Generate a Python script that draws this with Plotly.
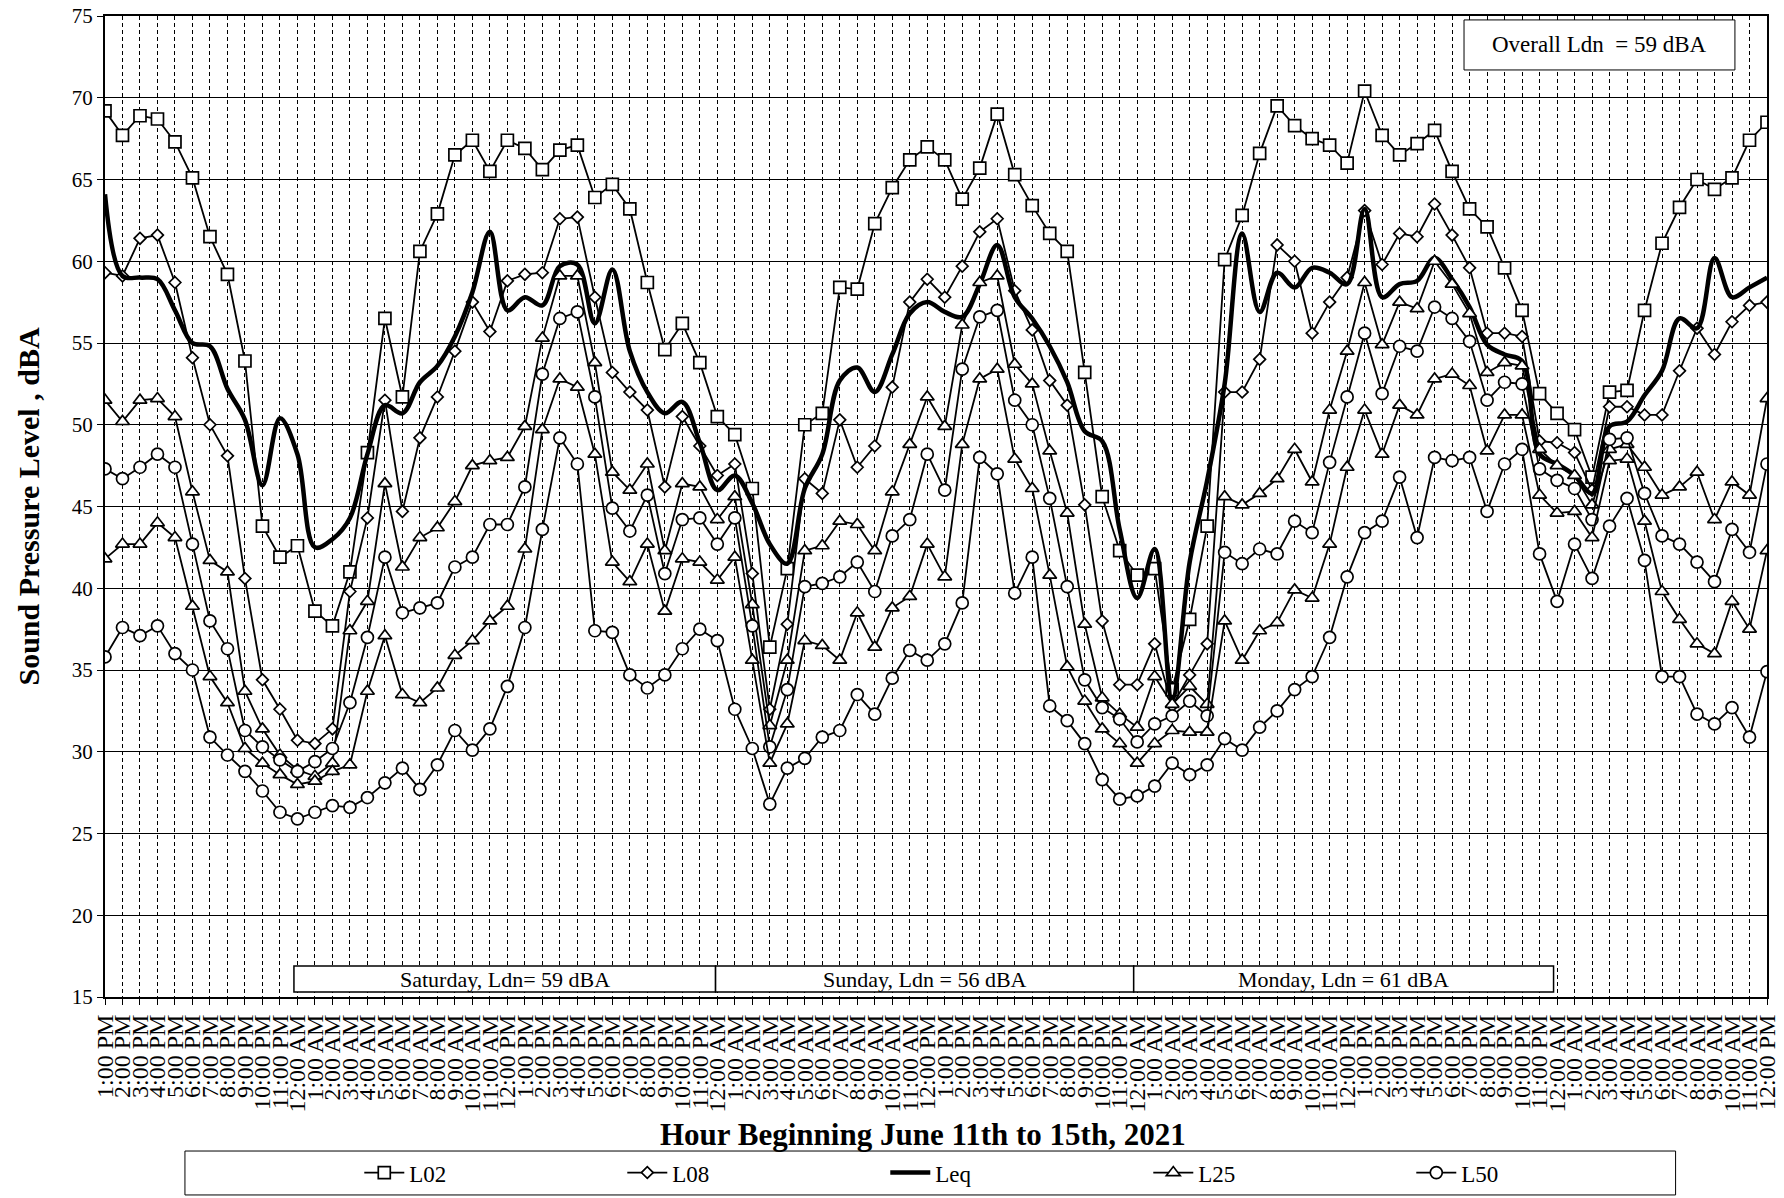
import plotly.graph_objects as go

# ---------------- data ----------------
hour_names = ["12:00 AM", "1:00 AM", "2:00 AM", "3:00 AM", "4:00 AM", "5:00 AM", "6:00 AM",
              "7:00 AM", "8:00 AM", "9:00 AM", "10:00 AM", "11:00 AM", "12:00 PM", "1:00 PM",
              "2:00 PM", "3:00 PM", "4:00 PM", "5:00 PM", "6:00 PM", "7:00 PM", "8:00 PM",
              "9:00 PM", "10:00 PM", "11:00 PM"]
n_hours = 96
x_idx = list(range(n_hours))
tick_labels = [hour_names[(13 + i) % 24] for i in x_idx]

L02 = [69.2, 67.7, 68.9, 68.7, 67.3, 65.1, 61.5, 59.2, 53.9, 43.8, 41.9, 42.6, 38.6, 37.7, 41.0, 48.3, 56.5,
       51.7, 60.6, 62.9, 66.5, 67.4, 65.5, 67.4, 66.9, 65.6, 66.8, 67.1, 63.9, 64.7, 63.2, 58.7, 54.6,
       56.2, 53.8, 50.5, 49.4, 46.1, 36.4, 41.2, 50.0, 50.7, 58.4, 58.3, 62.3, 64.5, 66.2, 67.0, 66.2,
       63.8, 65.7, 69.0, 65.3, 63.4, 61.7, 60.6, 53.2, 45.6, 42.3, 40.8, 41.2, 33.8, 38.1, 43.8, 60.1,
       62.8, 66.6, 69.5, 68.3, 67.5, 67.1, 66.0, 70.4, 67.7, 66.5, 67.2, 68.0, 65.5, 63.2, 62.1, 59.6,
       57.0, 51.9, 50.7, 49.7, 46.8, 52.0, 52.1, 57.0, 61.1, 63.3, 65.0, 64.4, 65.1, 67.4, 68.5]

L08 = [59.3, 59.1, 61.4, 61.6, 58.7, 54.1, 50.0, 48.1, 40.6, 34.4, 32.6, 30.7, 30.5, 31.4, 39.8, 44.3, 51.5,
       44.7, 49.2, 51.7, 54.5, 57.5, 55.7, 58.8, 59.2, 59.3, 62.6, 62.7, 57.8, 53.2, 52.0, 50.9, 46.2,
       50.5, 48.7, 46.9, 47.6, 40.9, 32.6, 37.8, 46.7, 45.8, 50.3, 47.4, 48.7, 52.3, 57.5, 58.9, 57.8,
       59.7, 61.8, 62.6, 58.2, 55.8, 52.7, 51.2, 45.1, 38.0, 34.1, 34.1, 36.6, 32.8, 34.7, 36.6, 52.0,
       52.0, 54.0, 61.0, 60.0, 55.6, 57.5, 59.0, 63.1, 59.8, 61.7, 61.5, 63.5, 61.6, 59.6, 55.6, 55.6,
       55.4, 49.0, 48.9, 48.3, 46.0, 51.1, 51.1, 50.6, 50.6, 53.3, 55.9, 54.3, 56.3, 57.3, 57.5]

Leq = [64.1, 59.1, 59.0, 58.9, 57.0, 55.0, 54.8, 52.2, 50.3, 46.3, 50.4, 48.2, 42.5, 43.0, 44.3, 48.2, 51.2,
       50.7, 52.6, 53.6, 55.4, 58.1, 61.8, 57.0, 57.8, 57.3, 59.7, 59.8, 56.2, 59.5, 54.5, 52.0, 50.7,
       51.4, 48.9, 46.0, 46.9, 45.2, 42.7, 41.5, 46.1, 48.2, 52.7, 53.5, 52.0, 54.3, 56.8, 57.5, 56.9,
       56.6, 58.6, 61.0, 57.8, 56.5, 54.8, 52.6, 49.6, 49.0, 43.6, 39.4, 42.4, 33.2, 41.6, 46.6, 52.5,
       61.7, 56.9, 59.3, 58.4, 59.6, 59.3, 58.6, 63.2, 57.8, 58.6, 58.8, 60.2, 58.9, 57.2, 54.9, 54.3,
       53.9, 48.2, 47.6, 46.9, 45.8, 49.9, 50.2, 51.8, 53.3, 56.5, 55.9, 60.2, 57.8, 58.4, 59.0]

L25 = [51.5, 50.2, 51.5, 51.6, 50.5, 45.9, 41.7, 41.0, 33.7, 31.4, 29.8, 28.9, 28.5, 29.3, 37.4, 39.2, 46.4,
       41.3, 43.1, 43.7, 45.3, 47.5, 47.8, 48.0, 49.9, 55.3, 59.1, 59.1, 53.8, 47.1, 46.0, 47.6, 42.3,
       46.4, 46.2, 44.2, 45.6, 39.0, 31.6, 35.6, 42.3, 42.6, 44.1, 43.9, 42.3, 45.9, 48.8, 51.7, 49.9,
       56.1, 58.7, 59.1, 53.7, 52.5, 48.4, 44.6, 37.8, 33.3, 32.3, 31.5, 34.6, 32.9, 34.0, 32.9, 45.6,
       45.1, 45.8, 46.7, 48.5, 46.5, 50.9, 54.5, 58.7, 54.9, 57.5, 57.1, 60.0, 58.6, 56.8, 53.2, 53.8,
       53.6, 48.5, 47.5, 46.9, 45.1, 48.5, 48.8, 47.4, 45.7, 46.2, 47.1, 44.2, 46.5, 45.7, 51.6]

L50 = [47.3, 46.7, 47.4, 48.2, 47.4, 42.7, 38.0, 36.3, 31.3, 30.3, 29.5, 28.8, 29.4, 30.2, 33.0, 37.0, 41.9,
       38.5, 38.8, 39.1, 41.3, 41.9, 43.9, 43.9, 46.2, 53.1, 56.5, 56.9, 51.7, 44.9, 43.5, 45.7, 40.9,
       44.2, 44.3, 42.7, 44.3, 37.7, 30.3, 33.8, 40.1, 40.3, 40.7, 41.6, 39.8, 43.2, 44.2, 48.2, 46.0,
       53.4, 56.6, 57.0, 51.5, 50.0, 45.5, 40.1, 34.4, 32.7, 32.0, 30.6, 31.7, 32.2, 33.1, 32.2, 42.2,
       41.5, 42.4, 42.1, 44.1, 43.4, 47.7, 51.7, 55.6, 51.9, 54.8, 54.5, 57.2, 56.5, 55.1, 51.5, 52.6,
       52.5, 47.3, 46.6, 46.1, 44.2, 49.1, 49.2, 45.8, 43.2, 42.7, 41.6, 40.4, 43.6, 42.2, 47.6]

# two further unlabelled percentile series drawn with the same markers
Lx_tri = [41.8, 42.7, 42.7, 44.0, 43.1, 38.9, 34.6, 33.0, 30.2, 29.3, 28.6, 28.0, 28.2, 28.8, 29.2, 33.7, 37.1,
          33.5, 33.0, 33.9, 35.9, 36.8, 38.0, 38.9, 42.4, 49.7, 52.8, 52.3, 48.2, 41.6, 40.4, 42.7, 38.6,
          41.8, 41.6, 40.5, 41.9, 35.6, 29.3, 31.7, 36.8, 36.5, 35.6, 38.5, 36.4, 38.8, 39.5, 42.7, 40.7,
          48.8, 52.8, 53.4, 47.9, 46.1, 40.8, 35.2, 33.1, 31.4, 30.5, 29.3, 30.5, 31.3, 31.2, 31.2, 38.0,
          35.6, 37.4, 37.9, 39.9, 39.4, 42.7, 47.4, 50.9, 48.2, 51.2, 50.6, 52.8, 53.1, 52.4, 48.4, 50.6,
          50.6, 45.7, 44.6, 44.7, 43.1, 47.8, 47.9, 44.1, 39.8, 38.1, 36.6, 36.0, 39.2, 37.5, 42.3]

Lx_circ = [35.8, 37.6, 37.1, 37.7, 36.0, 35.0, 30.9, 29.8, 28.8, 27.6, 26.3, 25.9, 26.3, 26.7, 26.6, 27.2, 28.1,
           29.0, 27.7, 29.2, 31.3, 30.1, 31.4, 34.0, 37.6, 43.6, 49.2, 47.6, 37.4, 37.3, 34.7, 33.9, 34.7,
           36.3, 37.5, 36.8, 32.6, 30.2, 26.8, 29.0, 29.6, 30.9, 31.3, 33.5, 32.3, 34.5, 36.2, 35.6, 36.6,
           39.1, 48.0, 47.0, 39.7, 41.9, 32.8, 31.9, 30.5, 28.3, 27.1, 27.3, 27.9, 29.3, 28.6, 29.2, 30.8,
           30.1, 31.5, 32.5, 33.8, 34.6, 37.0, 40.7, 43.4, 44.1, 46.8, 43.1, 48.0, 47.8, 48.0, 44.7, 47.6,
           48.5, 42.1, 39.2, 42.7, 40.6, 43.8, 45.5, 41.7, 34.6, 34.6, 32.3, 31.7, 32.7, 30.9, 34.9]

day_labels = ["Saturday, Ldn= 59 dBA", "Sunday, Ldn = 56 dBA", "Monday, Ldn = 61 dBA"]
day_bounds = [10.8, 34.9, 58.8, 82.8]
overall_label = "Overall Ldn  = 59 dBA"

# ---------------- figure ----------------
FONT = "Liberation Serif"
fig = go.Figure()


def marker_trace(y, name, symbol, size, show=True):
    return go.Scatter(
        x=x_idx, y=y, name=name, mode="lines+markers", showlegend=show,
        line=dict(color="black", width=1.8),
        marker=dict(symbol=symbol, size=size, color="white",
                    line=dict(color="black", width=1.7)),
    )


fig.add_trace(marker_trace(L02, "L02", "square", 12))
fig.add_trace(marker_trace(L08, "L08", "diamond", 9))
fig.add_trace(go.Scatter(x=x_idx, y=Leq, name="Leq", mode="lines",
                         line=dict(color="black", width=4.5, shape="spline", smoothing=1.0)))
fig.add_trace(marker_trace(L25, "L25", "triangle-up", 12))
fig.add_trace(marker_trace(L50, "L50", "circle", 12))
fig.add_trace(marker_trace(Lx_tri, "Lx (triangle)", "triangle-up", 12, show=False))
fig.add_trace(marker_trace(Lx_circ, "Lx (circle)", "circle", 12, show=False))

# day boxes
for i, lab in enumerate(day_labels):
    x0, x1 = day_bounds[i], day_bounds[i + 1]
    fig.add_shape(type="rect", xref="x", yref="y", x0=x0, x1=x1, y0=15.3, y1=16.9,
                  fillcolor="white", line=dict(color="black", width=1.5), layer="above")
    fig.add_annotation(xref="x", yref="y", x=(x0 + x1) / 2, y=16.1, text=lab,
                       xanchor="center", yanchor="middle",
                       showarrow=False, font=dict(family=FONT, size=22, color="black"))

# overall Ldn box
fig.add_shape(type="rect", xref="paper", yref="paper", x0=0.8177, x1=0.9807, y0=0.945, y1=0.996,
              fillcolor="white", line=dict(color="black", width=1), layer="above")
fig.add_annotation(xref="paper", yref="paper", x=(0.8177 + 0.9807) / 2, y=0.9705, text=overall_label,
                   xanchor="center", yanchor="middle",
                   showarrow=False, font=dict(family=FONT, size=23, color="black"))

# legend box
fig.add_shape(type="rect", xref="paper", yref="paper", x0=0.0481, x1=0.945, y0=-0.2018, y1=-0.157,
              fillcolor="rgba(0,0,0,0)", line=dict(color="black", width=1))

# axis titles
fig.add_annotation(xref="paper", yref="paper", x=0.492, y=-0.1397, xanchor="center", yanchor="middle",
                   text="<b>Hour Beginning June 11th to 15th, 2021</b>", showarrow=False,
                   font=dict(family=FONT, size=31, color="black"))
fig.add_annotation(xref="paper", yref="paper", x=-0.0463, y=0.5, textangle=-90,
                   xanchor="center", yanchor="middle",
                   text="<b>Sound Pressure Level , dBA</b>", showarrow=False,
                   font=dict(family=FONT, size=30, color="black"))

fig.update_layout(
    width=1784, height=1198,
    margin=dict(l=105, r=17, t=16, b=201, autoexpand=False),
    paper_bgcolor="white", plot_bgcolor="white",
    font=dict(family=FONT, color="black"),
    legend=dict(orientation="h", x=0.153, xanchor="left", y=-0.179, yanchor="middle",
                entrywidth=208, entrywidthmode="pixels",
                font=dict(family=FONT, size=23, color="black"),
                bgcolor="rgba(0,0,0,0)", borderwidth=0, itemwidth=40),
    xaxis=dict(range=[0, 95], tickmode="array", tickvals=x_idx, ticktext=tick_labels,
               tickangle=-90, tickfont=dict(family=FONT, size=24, color="black"),
               showgrid=True, gridcolor="black", gridwidth=1, griddash="4px,3px",
               showline=True, linecolor="black", linewidth=2, mirror=True,
               ticks="outside", ticklen=6, tickcolor="black", automargin=False, zeroline=False),
    yaxis=dict(range=[15, 75], tick0=15, dtick=5,
               tickfont=dict(family=FONT, size=21, color="black"),
               showgrid=True, gridcolor="black", gridwidth=1,
               showline=True, linecolor="black", linewidth=2, mirror=True,
               ticks="outside", ticklen=6, tickcolor="black", automargin=False, zeroline=False),
)

fig.write_html("out.html", config={"displayModeBar": False},
               post_script="document.body.style.margin='0px';")
